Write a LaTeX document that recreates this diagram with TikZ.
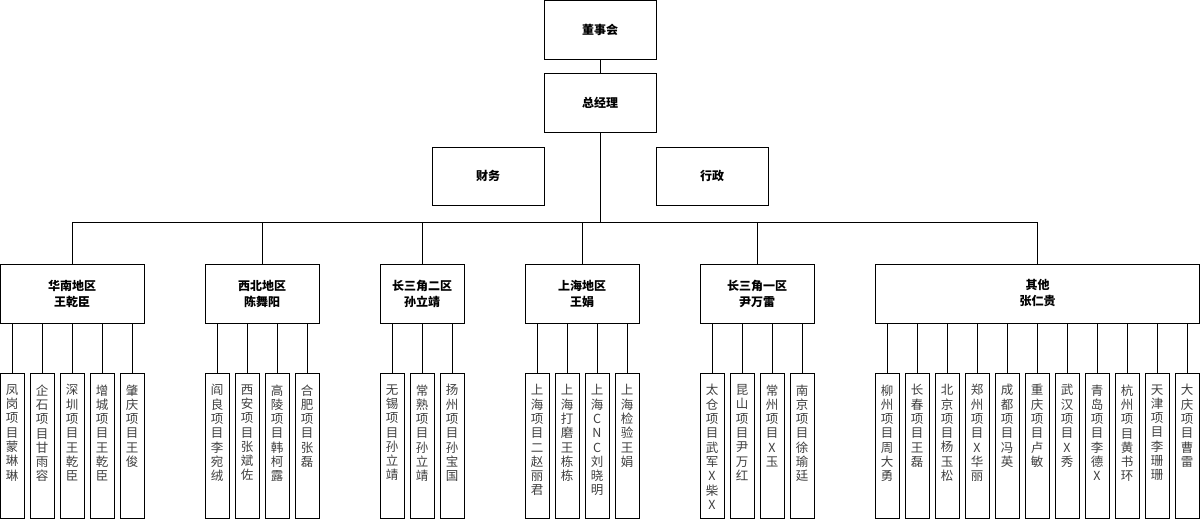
\documentclass[tikz,border=0pt]{standalone}
\usepackage{fontspec}
\setmainfont{Noto Sans CJK SC}
\def\vcharsi#1{\ifx\relax#1\else#1\\\expandafter\vcharsi\fi}
\newcommand\vchars[1]{\vcharsi#1\relax}
\begin{document}
\begin{tikzpicture}[x=1pt,y=-1pt,line width=1pt,
  box/.style={draw,inner sep=0pt,font=\bfseries\fontsize{12}{16}\selectfont,align=center},
  leaf/.style={draw,minimum width=24pt,minimum height=145pt,anchor=north,inner sep=0pt},
  lt/.style={anchor=north,inner sep=0pt,align=center,text=black!75,font=\fontsize{12.5}{14.3}\selectfont}]
\useasboundingbox (0,0) rectangle (1200,519);
\fill[white] (0,0) rectangle (1200,519);
\node[box,minimum width=112pt,minimum height=59pt] (dsh) at (600,30) {董事会};
\node[box,minimum width=112pt,minimum height=58pt] (zjl) at (600,103) {总经理};
\node[box,minimum width=112pt,minimum height=58pt] (cw) at (488,176) {财务};
\node[box,minimum width=112pt,minimum height=58pt] (xz) at (712,176) {行政};
\draw (dsh) -- (zjl);
\coordinate (bus) at (600,222);
\draw (zjl.south) -- (bus);
% regions
\def\ry{293.5}
\node[box,minimum width=144pt,minimum height=59pt] (r1) at (72,\ry) {华南地区\\王乾臣};
\node[box,minimum width=114pt,minimum height=59pt] (r2) at (262,\ry) {西北地区\\陈舞阳};
\node[box,minimum width=84pt,minimum height=59pt] (r3) at (422,\ry) {长三角二区\\孙立靖};
\node[box,minimum width=114pt,minimum height=59pt] (r4) at (582,\ry) {上海地区\\王娟};
\node[box,minimum width=114pt,minimum height=59pt] (r5) at (757,\ry) {长三角一区\\尹万雷};
\node[box,minimum width=324pt,minimum height=59pt] (r6) at (1037.5,\ry) {其他\\张仁贵};
\coordinate (bl) at (72,222); \coordinate (br) at (1037.5,222);
\draw (bl) -- (br);
\foreach \r in {r1,r2,r3,r4,r5,r6} \draw (\r.north |- bl) -- (\r.north);
% leaves
\newcommand\leaf[4]{% name, x, region, text
  \node[leaf] (#1) at (#2,373) {};
  \node[lt] at (#2,384) {\vchars{#4}};
  \draw (#3.south -| #1.north) -- (#1.north);}
\leaf{a1}{12}{r1}{凤岗项目蒙琳琳}
\leaf{a2}{42}{r1}{企石项目甘雨容}
\leaf{a3}{72}{r1}{深圳项目王乾臣}
\leaf{a4}{102}{r1}{增城项目王乾臣}
\leaf{a5}{132}{r1}{肇庆项目王俊}
\leaf{b1}{217}{r2}{阎良项目李宛绒}
\leaf{b2}{247}{r2}{西安项目张斌佐}
\leaf{b3}{277}{r2}{高陵项目韩柯露}
\leaf{b4}{307}{r2}{合肥项目张磊}
\leaf{c1}{392}{r3}{无锡项目孙立靖}
\leaf{c2}{422}{r3}{常熟项目孙立靖}
\leaf{c3}{452}{r3}{扬州项目孙宝国}
\leaf{d1}{537}{r4}{上海项目二赵丽君}
\leaf{d2}{567}{r4}{上海打磨王栋栋}
\leaf{d3}{597}{r4}{上海CNC刘晓明}
\leaf{d4}{627}{r4}{上海检验王娟}
\leaf{e1}{712}{r5}{太仓项目武军X柴X}
\leaf{e2}{742}{r5}{昆山项目尹万红}
\leaf{e3}{772}{r5}{常州项目X玉}
\leaf{e4}{802}{r5}{南京项目徐瑜廷}
\leaf{f1}{887}{r6}{柳州项目周大勇}
\leaf{f2}{917}{r6}{长春项目王磊}
\leaf{f3}{947}{r6}{北京项目杨玉松}
\leaf{f4}{977}{r6}{郑州项目X华丽}
\leaf{f5}{1007}{r6}{成都项目冯英}
\leaf{f6}{1037}{r6}{重庆项目卢敏}
\leaf{f7}{1067}{r6}{武汉项目X秀}
\leaf{f8}{1097}{r6}{青岛项目李德X}
\leaf{f9}{1127}{r6}{杭州项目黄书环}
\leaf{f10}{1157}{r6}{天津项目李珊珊}
\leaf{f11}{1187}{r6}{大庆项目曹雷}
\end{tikzpicture}
\end{document}
